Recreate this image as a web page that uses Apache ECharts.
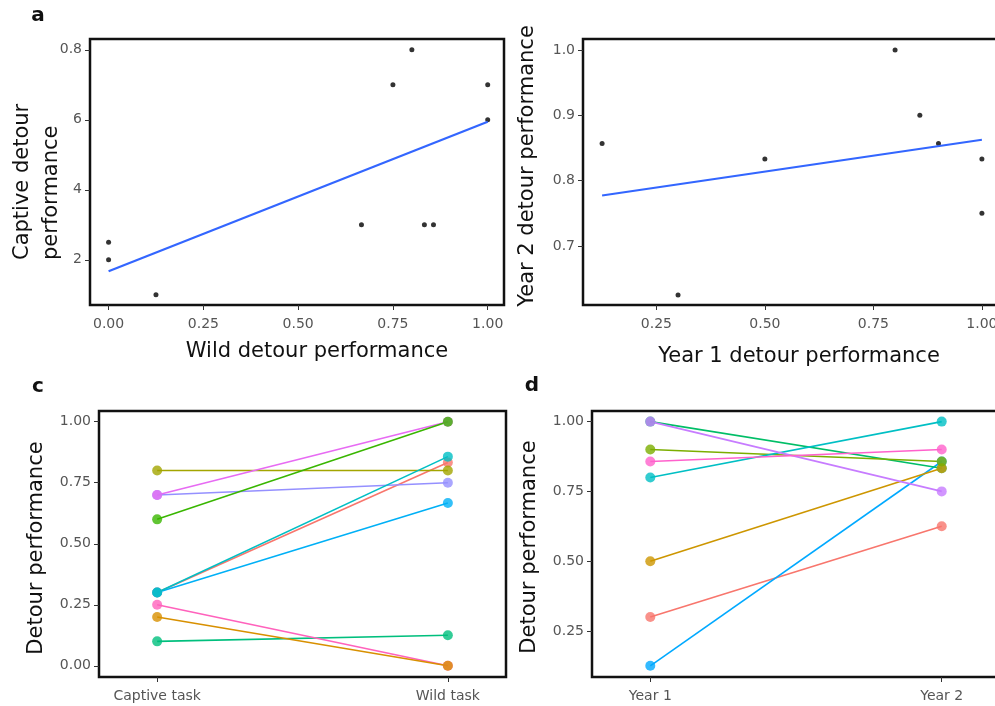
<!DOCTYPE html>
<html>
<head>
<meta charset="utf-8">
<script src="https://cdn.jsdelivr.net/npm/echarts@6/dist/echarts.min.js"></script>
<style>
  html, body { margin: 0; padding: 0; background: #fff; }
  #chart { width: 995px; height: 706px; }
</style>
</head>
<body>
<div id="chart"></div>
<script>
// panel a: wild vs captive
var aWild = [0, 0, 0.125, 0.667, 0.75, 0.8, 0.833, 0.857, 1, 1];
var aCaptive = [2.5, 2, 1, 3, 7, 8, 3, 3, 7, 6];
var aYTicks = [2, 4, 6, 8];
var aYLabels = ["2", "4", "6", "0.8"];
var aXTicks = [0, 0.25, 0.5, 0.75, 1];

// panel b: year 1 vs year 2
var bYear1 = [0.125, 0.3, 0.5, 0.8, 0.857, 0.9, 1, 1];
var bYear2 = [0.857, 0.625, 0.833, 1, 0.9, 0.857, 0.833, 0.75];
var bXTicks = [0.25, 0.5, 0.75, 1];
var bYTicks = [0.7, 0.8, 0.9, 1.0];

// panel c: captive task -> wild task, one line per bird
var cCats = ["Captive task", "Wild task"];
var cCaptive = [0.3, 0.2, 0.8, 0.6, 0.1, 0.3, 0.3, 0.7, 0.7, 0.25];
var cWildT = [0.833, 0, 0.8, 1, 0.125, 0.857, 0.667, 0.75, 1, 0];
var cColors = ["#F8766D", "#D89000", "#A3A500", "#39B600", "#00BF7D", "#00BFC4", "#00B0F6", "#9590FF", "#E76BF3", "#FF62BC"];
var cYTicks = [0, 0.25, 0.5, 0.75, 1];
var cDrawOrder = [0, 2, 4, 6, 7, 8, 9, 3, 1, 5];

// panel d: year 1 -> year 2
var dCats = ["Year 1", "Year 2"];
var dY1 = [0.3, 0.5, 0.9, 1.0, 0.8, 0.125, 1.0, 0.857];
var dY2 = [0.625, 0.833, 0.857, 0.833, 1.0, 0.857, 0.75, 0.9];
var dColors = ["#F8766D", "#CD9600", "#7CAE00", "#00BE67", "#00BFC4", "#00A9FF", "#C77CFF", "#FF61CC"];
var dYTicks = [0.25, 0.5, 0.75, 1];
var dDrawOrder = [0, 5, 3, 1, 2, 4, 6, 7];

var FONT = "DejaVu Sans, Verdana, sans-serif";

function fitLine(xs, ys) {
  var n = xs.length, mx = 0, my = 0;
  for (var i = 0; i < n; i++) { mx += xs[i]; my += ys[i]; }
  mx /= n; my /= n;
  var sxx = 0, sxy = 0;
  for (var j = 0; j < n; j++) {
    sxx += (xs[j] - mx) * (xs[j] - mx);
    sxy += (xs[j] - mx) * (ys[j] - my);
  }
  var b = sxy / sxx, a = my - b * mx;
  var x0 = Math.min.apply(null, xs), x1 = Math.max.apply(null, xs);
  return [[x0, a + b * x0], [x1, a + b * x1]];
}

function pairs(xs, ys) {
  return xs.map(function (x, i) { return [x, ys[i]]; });
}

function fmt2(v) { return v.toFixed(2); }

function valAxis(idx, min, max, ticks, formatter, isX) {
  return {
    type: "value", gridIndex: idx, min: min, max: max,
    splitLine: { show: false },
    axisLine: { show: false, onZero: false },
    axisTick: { show: true, customValues: ticks, length: 5, lineStyle: { color: "#333", width: 1 } },
    axisLabel: {
      customValues: ticks, formatter: formatter,
      color: "#555", fontSize: 14, fontFamily: FONT,
      margin: isX ? 12 : 8
    }
  };
}

var grids = [
  { left: 90, top: 39, width: 414, height: 266 },
  { left: 583, top: 39, width: 418, height: 266 },
  { left: 99, top: 411, width: 407, height: 266 },
  { left: 592, top: 411, width: 408, height: 266 }
].map(function (g) {
  g.show = true; g.borderColor = "#111"; g.borderWidth = 2.5; g.backgroundColor = "transparent";
  g.outerBoundsMode = "none"; g.containLabel = false;
  return g;
});

var xAxes = [
  valAxis(0, -0.049, 1.043, aXTicks, fmt2, true),
  valAxis(1, 0.081, 1.044, bXTicks, fmt2, true),
  valAxis(2, 0.8, 2.2, [1, 2], function (v) { return cCats[Math.round(v) - 1]; }, true),
  valAxis(3, 0.8, 2.2, [1, 2], function (v) { return dCats[Math.round(v) - 1]; }, true)
];
var yAxes = [
  valAxis(0, 0.71, 8.31, aYTicks, function (v) { return aYLabels[aYTicks.indexOf(v)]; }, false),
  valAxis(1, 0.6097, 1.0168, bYTicks, function (v) { return v.toFixed(1); }, false),
  valAxis(2, -0.046, 1.044, cYTicks, fmt2, false),
  valAxis(3, 0.085, 1.038, dYTicks, fmt2, false)
];

var series = [];
function scatterSeries(idx, data) {
  series.push({
    type: "scatter", xAxisIndex: idx, yAxisIndex: idx, data: data,
    symbolSize: 5, itemStyle: { color: "#000" }, silent: true, z: 3
  });
}
function fitSeries(idx, data) {
  series.push({
    type: "line", xAxisIndex: idx, yAxisIndex: idx, data: data,
    showSymbol: false, lineStyle: { color: "#3366FF", width: 2.2 }, silent: true, z: 4
  });
}
scatterSeries(0, pairs(aWild, aCaptive));
fitSeries(0, fitLine(aWild, aCaptive));
scatterSeries(1, pairs(bYear1, bYear2));
fitSeries(1, fitLine(bYear1, bYear2));

function pairLines(idx, v1, v2, colors, order) {
  order.forEach(function (i) {
    series.push({
      type: "line", xAxisIndex: idx, yAxisIndex: idx,
      data: [[1, v1[i]], [2, v2[i]]],
      symbol: "circle", symbolSize: 10, showSymbol: true,
      lineStyle: { color: colors[i], width: 1.6 },
      itemStyle: { color: colors[i], opacity: 0.8 },
      silent: true, animation: false
    });
  });
}
pairLines(2, cCaptive, cWildT, cColors, cDrawOrder);
pairLines(3, dY1, dY2, dColors, dDrawOrder);

function txt(x, y, s, size, opts) {
  opts = opts || {};
  return {
    type: "text", x: x, y: y, rotation: opts.rot || 0, silent: true,
    style: {
      text: s, fontSize: size, fontFamily: FONT, fill: "#111",
      fontWeight: opts.bold ? "bold" : "normal",
      align: opts.align || "center", verticalAlign: "middle",
      lineHeight: opts.lh || size
    }
  };
}

var graphics = [
  txt(38, 16, "a", 20, { bold: true }),
  txt(38, 387, "c", 20, { bold: true }),
  txt(532, 386, "d", 20, { bold: true }),
  txt(317, 352, "Wild detour performance", 21),
  txt(37, 260, "Captive detour\nperformance", 21, { rot: Math.PI / 2, align: "left", lh: 29 }),
  txt(799, 357, "Year 1 detour performance", 21),
  txt(528, 166, "Year 2 detour performance", 21, { rot: Math.PI / 2 }),
  txt(37, 548, "Detour performance", 21, { rot: Math.PI / 2 }),
  txt(530, 547, "Detour performance", 21, { rot: Math.PI / 2 })
];

var chart = echarts.init(document.getElementById("chart"), null, { renderer: "canvas" });
chart.setOption({
  animation: false,
  backgroundColor: "#fff",
  grid: grids,
  xAxis: xAxes,
  yAxis: yAxes,
  series: series,
  graphic: graphics
});
</script>
</body>
</html>
